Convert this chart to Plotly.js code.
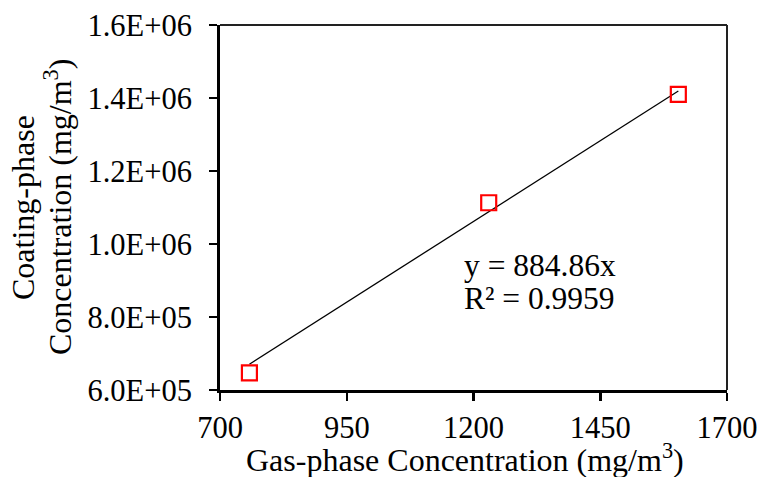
<!DOCTYPE html>
<html>
<head>
<meta charset="utf-8">
<script src="https://cdn.plot.ly/plotly-3.0.1.min.js"></script>
<style>html,body{margin:0;padding:0;background:#fff;}#chart{width:762px;height:477px;}</style>
</head>
<body>
<div id="chart"></div>
<script>
const gasPhase = [758, 1230, 1604];
const coatingPhase = [647000, 1113000, 1410000];
const trendSlope = 884.86;
const rSquared = 0.9959;
const xTicks = [700, 950, 1200, 1450, 1700];
const yTicks = [600000, 800000, 1000000, 1200000, 1400000, 1600000];
const yTickLabels = ["6.0E+05", "8.0E+05", "1.0E+06", "1.2E+06", "1.4E+06", "1.6E+06"];
const xTitle = "Gas-phase Concentration (mg/m<sup>3</sup>)";
const yTitleLines = ["Coating-phase", "Concentration (mg/m<sup>3</sup>)"];

const xMin = Math.min(...gasPhase), xMax = Math.max(...gasPhase);
const font = "Liberation Serif, Times New Roman, serif";
const tickFont = {family: font, size: 30.5, color: "#000"};
const titleFont = {family: font, size: 32, color: "#000"};
const annFont = {family: font, size: 31.5, color: "#000"};

const traces = [
  {
    x: [xMin, xMax],
    y: [trendSlope * xMin, trendSlope * xMax],
    mode: "lines",
    line: {color: "#000", width: 1.3},
    hoverinfo: "skip",
    showlegend: false
  },
  {
    x: gasPhase,
    y: coatingPhase,
    mode: "markers",
    marker: {symbol: "square-open", size: 15, color: "#ff0000", line: {width: 2.2, color: "#ff0000"}},
    showlegend: false
  }
];

const layout = {
  width: 762, height: 477,
  margin: {l: 219.5, r: 34.5, t: 25, b: 87},
  paper_bgcolor: "#fff", plot_bgcolor: "#fff",
  font: {family: font, color: "#000", size: 30},
  xaxis: {
    range: [700, 1700],
    tickvals: xTicks,
    ticktext: xTicks.map(String),
    ticks: "outside", ticklen: 8, tickwidth: 2.5, tickcolor: "#000",
    showline: true, linewidth: 3, linecolor: "#000",
    showgrid: false, zeroline: false,
    tickfont: tickFont
  },
  yaxis: {
    range: [600000, 1600000],
    tickvals: yTicks,
    ticktext: yTickLabels,
    ticks: "outside", ticklen: 8, tickwidth: 2.5, tickcolor: "#000",
    showline: true, linewidth: 3, linecolor: "#000",
    showgrid: false, zeroline: false,
    ticklabelstandoff: 11,
    tickfont: tickFont
  },
  shapes: [
    {type: "line", xref: "paper", yref: "paper", x0: 0, x1: 1, y0: 1, y1: 1, line: {color: "#222", width: 2}},
    {type: "line", xref: "paper", yref: "paper", x0: 1, x1: 1, y0: 0, y1: 1, line: {color: "#222", width: 2}}
  ],
  annotations: [
    {x: 1177, y: 942000, xref: "x", yref: "y", xanchor: "left", yanchor: "middle", showarrow: false,
     text: "y = " + trendSlope.toFixed(2) + "x", font: annFont},
    {x: 1177, y: 852000, xref: "x", yref: "y", xanchor: "left", yanchor: "middle", showarrow: false,
     text: "R² = " + rSquared.toFixed(4), font: annFont},
    {x: 0.5, y: 0, xref: "paper", yref: "paper", xanchor: "center", yanchor: "middle", showarrow: false,
     xshift: -9, yshift: -68, text: xTitle, font: titleFont},
    {x: 0, y: 0.5, xref: "paper", yref: "paper", xanchor: "center", yanchor: "middle", showarrow: false,
     xshift: -197.5, textangle: -90, text: yTitleLines[0], font: titleFont},
    {x: 0, y: 0.5, xref: "paper", yref: "paper", xanchor: "center", yanchor: "middle", showarrow: false,
     xshift: -162.5, textangle: -90, text: yTitleLines[1], font: titleFont}
  ]
};

Plotly.newPlot("chart", traces, layout, {displayModeBar: false, staticPlot: true});
</script>
</body>
</html>
